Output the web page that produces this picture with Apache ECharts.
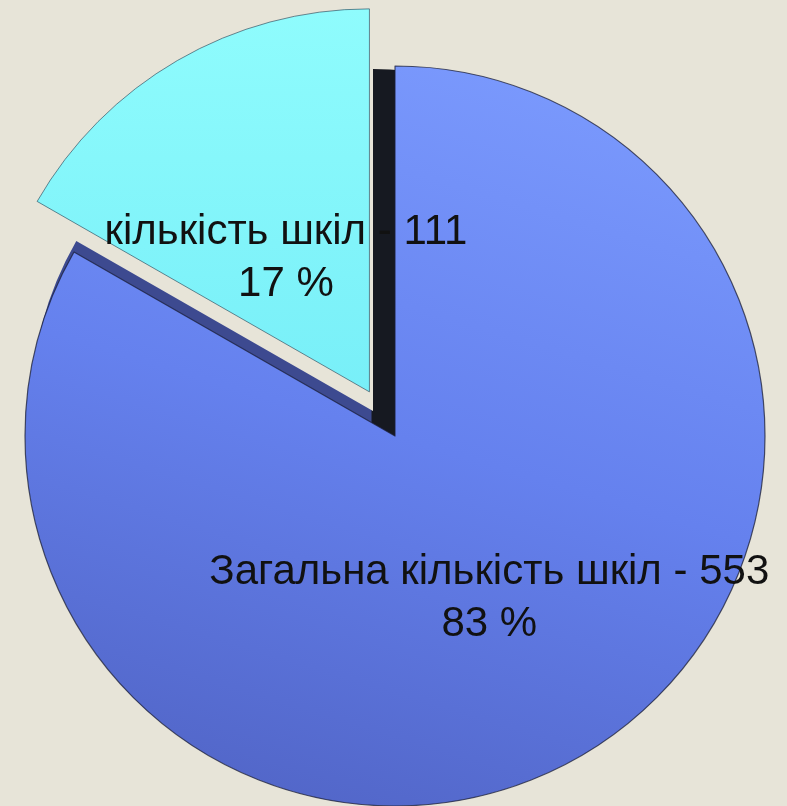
<!DOCTYPE html>
<html>
<head>
<meta charset="utf-8">
<script src="https://cdn.jsdelivr.net/npm/echarts@6/dist/echarts.min.js"></script>
<style>
	html, body { margin: 0; padding: 0; background: #e7e4d8; }
	#pie-container { width: 787px; height: 806px; }
</style>
</head>
<body>
<div id="pie-container"></div>
<script>
	var categories = ['Загальна кількість шкіл', 'кількість шкіл'];
	var schoolCounts = [553, 111];

	var bg_color = '#e7e4d8';
	var label_color = '#111111';
	var pie_center = [395, 436];
	var pie_radius = 370;

	// top face of the big slice
	var blue_face = {
		type: 'linear', x: 0.65, y: 0, x2: 0.35, y2: 1,
		colorStops: [
			{ offset: 0, color: '#7a99fd' },
			{ offset: 0.5, color: '#6581ee' },
			{ offset: 1, color: '#5266c8' }
		]
	};
	var cyan_face = {
		type: 'linear', x: 0, y: 0, x2: 0, y2: 1,
		colorStops: [
			{ offset: 0, color: '#8ffcfd' },
			{ offset: 1, color: '#78eff8' }
		]
	};
	// side wall seen through the gap: dark blue along the cut, almost black along the vertical edge
	var wall_color = {
		type: 'linear', x: 0, y: 0, x2: 787, y2: 0, global: true,
		colorStops: [
			{ offset: 0, color: '#3d4a90' },
			{ offset: 0.4714, color: '#3d4a90' },
			{ offset: 0.4727, color: '#161921' },
			{ offset: 1, color: '#161921' }
		]
	};

	function buildData(styles) {
		return categories.map(function (name, i) {
			return { name: name, value: schoolCounts[i], itemStyle: styles[i].itemStyle, label: styles[i].label, selected: styles[i].selected };
		});
	}

	var hidden = { itemStyle: { color: 'transparent', borderWidth: 0 }, label: { show: false } };
	var label_font = 'Liberation Sans, Arial, sans-serif';

	var pieChart = echarts.init(document.getElementById('pie-container'));
	var pieChartOptions = {
		backgroundColor: bg_color,
		animation: false,
		series: [
			{
				name: 'wall',
				type: 'pie',
				silent: true,
				startAngle: 90,
				center: [pie_center[0] - 22, pie_center[1] - 25],
				radius: pie_radius - 28,
				label: { show: false },
				labelLine: { show: false },
				data: buildData([
					{ itemStyle: { color: wall_color, borderWidth: 0 }, label: { show: false } },
					hidden
				])
			},
			{
				name: 'Загальна кількість шкіл',
				type: 'pie',
				silent: true,
				startAngle: 90,
				percentPrecision: 0,
				center: pie_center,
				radius: pie_radius,
				labelLine: { show: false },
				data: buildData([
					{
						itemStyle: { color: blue_face, borderColor: 'rgba(25,30,55,0.75)', borderWidth: 1.2 },
						label: {
							show: true,
							position: 'inside',
							formatter: '{b} - {c}\n{d} %',
							fontFamily: label_font,
							fontSize: 42,
							lineHeight: 52,
							color: label_color
						}
					},
					hidden
				])
			},
			{
				name: 'кількість шкіл',
				type: 'pie',
				silent: true,
				startAngle: 90,
				percentPrecision: 0,
				center: pie_center,
				radius: pie_radius + 13,
				selectedMode: 'single',
				selectedOffset: 51,
				labelLine: { show: false },
				labelLayout: { dx: 14, dy: 35 },
				data: buildData([
					hidden,
					{
						selected: true,
						itemStyle: { color: cyan_face, borderColor: 'rgba(30,60,80,0.6)', borderWidth: 1 },
						label: {
							show: true,
							position: 'inside',
							formatter: '{b} - {c}\n{d} %',
							fontFamily: label_font,
							fontSize: 42,
							lineHeight: 52,
							color: label_color
						}
					}
				])
			}
		]
	};

	pieChart.setOption(pieChartOptions, true);
</script>
</body>
</html>
